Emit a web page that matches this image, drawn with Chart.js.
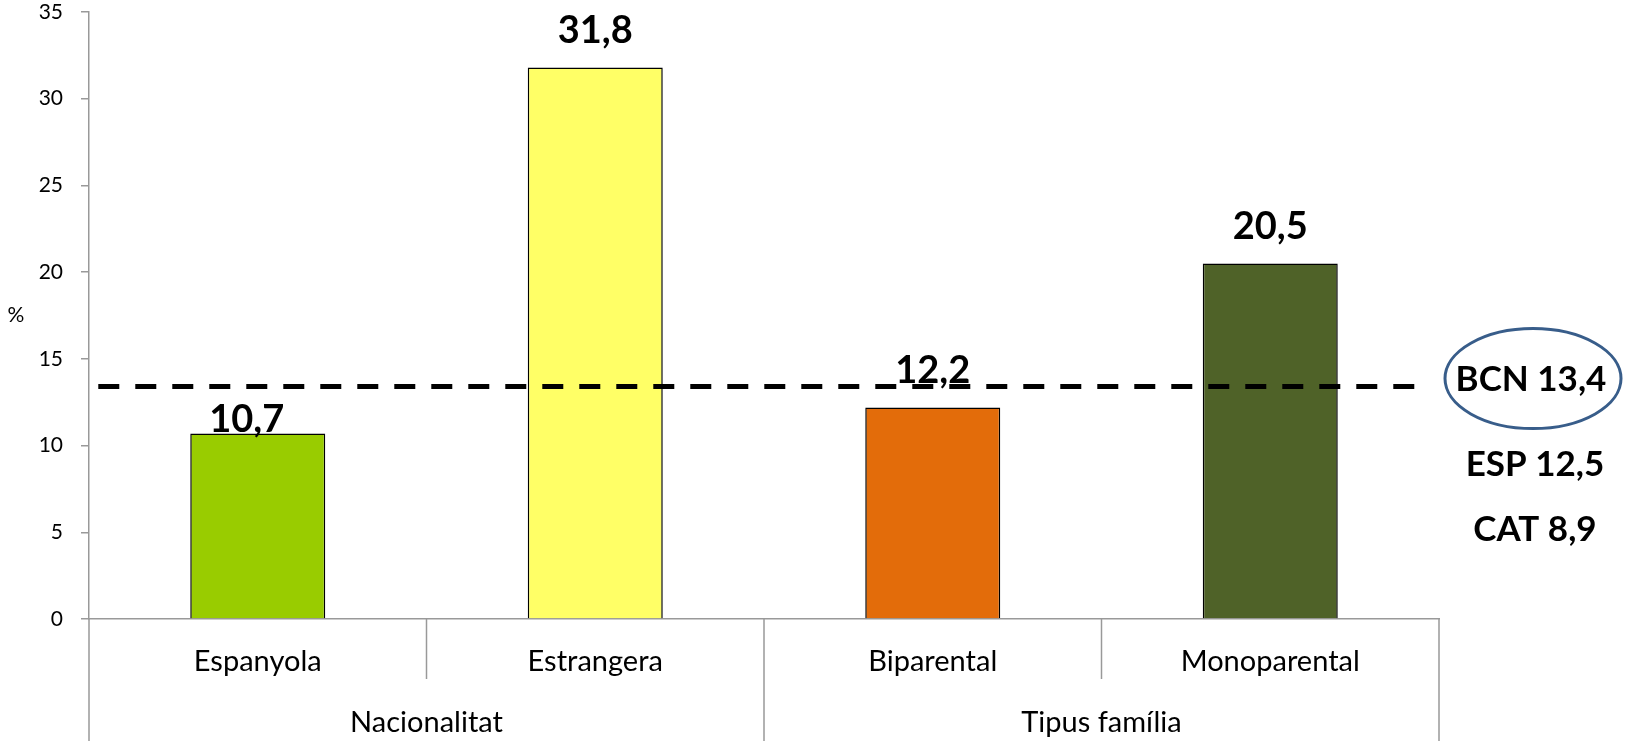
<!DOCTYPE html>
<html>
<head>
<meta charset="utf-8">
<script src="https://cdn.jsdelivr.net/npm/chart.js@4/dist/chart.umd.min.js"></script>
<style>
  html, body { margin: 0; padding: 0; background: #ffffff; }
  #wrap { width: 1626px; height: 741px; position: relative; }
</style>
</head>
<body>
<div id="wrap"><canvas id="c"></canvas></div>
<script>
// ---- data ----
const categories = ['Espanyola', 'Estrangera', 'Biparental', 'Monoparental'];
const groups = ['Nacionalitat', 'Nacionalitat', 'Tipus família', 'Tipus família'];
const values = [10.7, 31.8, 12.2, 20.5];
const barColors = ['#99CC00', '#FFFF66', '#E36C0A', '#4F6228'];
const refNames = ['BCN', 'ESP', 'CAT'];
const refValues = [13.4, 12.5, 8.9];
const yMin = 0, yMax = 35, yStep = 5;
const yUnit = '%';

const fmt = v => v.toFixed(1).replace('.', ',');
const FONT = 'Lato, "Open Sans", sans-serif';

const decor = {
  id: 'decor',
  afterDatasetDraw(chart, args, opts) {
    if (args.index !== 0) return;
    const ctx = chart.ctx;
    const meta = args.meta;
    ctx.save();
    ctx.font = 'bold 38px ' + FONT;
    ctx.fillStyle = '#000';
    ctx.textAlign = 'center';
    ctx.textBaseline = 'alphabetic';
    meta.data.forEach((bar, i) => {
      const n = opts.nudges[i] || {dx: 0, dy: 0};
      ctx.fillText(fmt(values[i]), bar.x + n.dx, bar.y - 24 + n.dy);
    });
    ctx.restore();
  },
  afterDraw(chart) {
    const ctx = chart.ctx;
    const area = chart.chartArea;
    const xs = chart.scales.x;
    const ys = chart.scales.y;
    const n = categories.length;
    ctx.save();
    // dividers of the two-level category axis
    ctx.strokeStyle = '#999999';
    ctx.lineWidth = 1.5;
    const bounds = [];
    for (let i = 0; i <= n; i++) {
      let x;
      if (i === 0) x = area.left;
      else if (i === n) x = area.right;
      else x = (xs.getPixelForValue(i - 1) + xs.getPixelForValue(i)) / 2;
      bounds.push(x);
      const isGroup = i === 0 || i === n || groups[i] !== groups[i - 1];
      ctx.beginPath();
      ctx.moveTo(x, area.bottom);
      ctx.lineTo(x, isGroup ? chart.height : area.bottom + 60);
      ctx.stroke();
    }
    // group labels
    ctx.font = '29px ' + FONT;
    ctx.fillStyle = '#000';
    ctx.textAlign = 'center';
    ctx.textBaseline = 'alphabetic';
    let start = 0;
    for (let i = 1; i <= n; i++) {
      if (i === n || groups[i] !== groups[i - 1]) {
        const cx = (bounds[start] + bounds[i]) / 2;
        ctx.fillText(groups[start], cx, area.bottom + 113);
        start = i;
      }
    }
    // unit label
    ctx.font = '21px ' + FONT;
    ctx.textBaseline = 'middle';
    ctx.fillText(yUnit, 16, (area.top + area.bottom) / 2);
    // reference annotations
    const yb = ys.getPixelForValue(refValues[0]);
    const cx = area.right + 94;
    ctx.strokeStyle = '#385D8A';
    ctx.lineWidth = 3;
    ctx.beginPath();
    ctx.ellipse(cx, yb - 8, 88, 50, 0, 0, Math.PI * 2);
    ctx.stroke();
    ctx.font = 'bold 35px ' + FONT;
    ctx.fillStyle = '#000';
    ctx.textBaseline = 'alphabetic';
    const offs = [4, 89, 154];
    refNames.forEach((nm, i) => {
      ctx.fillText(nm + ' ' + fmt(refValues[i]), cx + (i === 0 ? -2 : 2), yb + offs[i]);
    });
    ctx.restore();
  }
};

new Chart(document.getElementById('c'), {
  type: 'bar',
  data: {
    labels: categories,
    datasets: [
      {
        type: 'bar',
        data: values,
        backgroundColor: barColors,
        borderColor: '#000000',
        borderWidth: 1.5,
        barPercentage: 0.4,
        categoryPercentage: 1.0,
        grouped: false,
        order: 1
      },
      {
        type: 'line',
        xAxisID: 'xl',
        data: [{x: 0, y: refValues[0]}, {x: 1, y: refValues[0]}],
        borderColor: '#000000',
        borderWidth: 5,
        borderDash: [21, 16],
        pointRadius: 0,
        fill: false,
        order: 0
      }
    ]
  },
  options: {
    responsive: true,
    maintainAspectRatio: false,
    animation: false,
    layout: { padding: { top: 12, right: 187, bottom: 0, left: 0 } },
    plugins: {
      legend: { display: false },
      tooltip: { enabled: false },
      decor: { nudges: [{dx: -11, dy: 23}, {dx: 0, dy: 0}, {dx: 0, dy: 0}, {dx: 0, dy: 0}] }
    },
    scales: {
      x: {
        type: 'category',
        offset: true,
        border: { display: true, color: '#999999', width: 1.5 },
        grid: { display: true, drawOnChartArea: false, drawTicks: false, color: 'rgba(0,0,0,0)' },
        ticks: { font: { family: FONT, size: 29 }, color: '#000', padding: 25, maxRotation: 0 },
        afterFit(s) { s.height = 122; s.paddingLeft = 0; s.paddingRight = 0; }
      },
      xl: {
        type: 'linear',
        display: false,
        offset: false,
        grid: { offset: false },
        min: -0.007,
        max: 1.0105
      },
      y: {
        min: yMin,
        max: yMax,
        border: { display: true, color: '#999999', width: 1.5 },
        grid: { drawOnChartArea: false, drawTicks: true, tickLength: 8, color: '#999999', lineWidth: 1.5 },
        ticks: { stepSize: yStep, font: { family: FONT, size: 21 }, color: '#000', padding: 18 },
        afterFit(s) { s.width = 89; s.paddingTop = 0; s.paddingBottom = 0; }
      }
    }
  },
  plugins: [decor]
});
</script>
</body>
</html>
